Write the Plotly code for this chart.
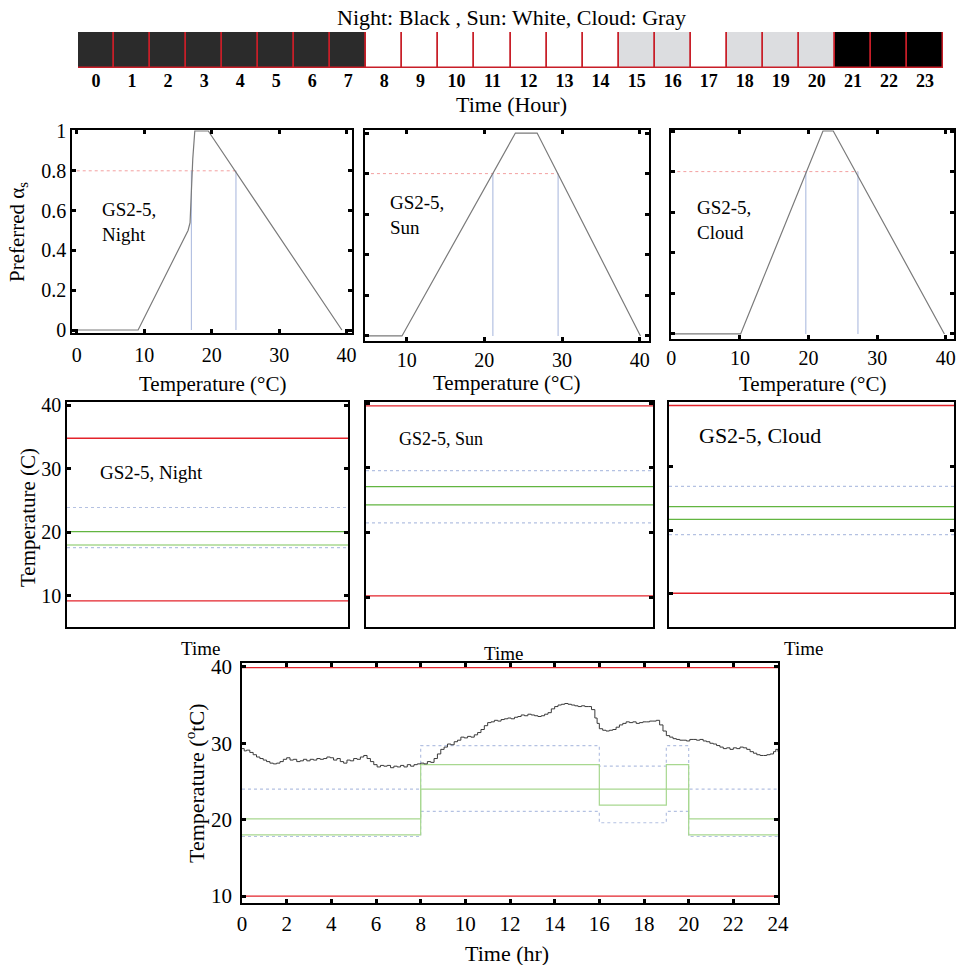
import plotly.graph_objects as go

W, H = 960, 965
FONT = "Liberation Serif"

# ---------------- data ----------------
hours = list(range(24))
sky = ["Night"] * 8 + ["Sun"] * 7 + ["Cloud"] * 2 + ["Sun"] + ["Cloud"] * 3 + ["Late night"] * 3
sky_fill = {"Night": "#2b2b2b", "Sun": "#ffffff", "Cloud": "#dcdde0", "Late night": "#000000"}

# preferred alpha_s versus temperature, per sky condition
night_temp = [0, 9.1, 16.5, 16.8, 17.0, 17.2, 17.5, 19.5, 39.3]
night_alpha = [0, 0, 0.50, 0.54, 0.70, 0.86, 1.0, 1.0, 0]
sun_temp = [0, 9.4, 24.0, 26.8, 40.1]
sun_alpha = [0, 0, 1, 1, 0]
cloud_temp = [0, 10.1, 22.1, 23.6, 39.8]
cloud_alpha = [0, 0, 1, 1, 0]
alpha_level = 0.8
night_band = [17.0, 23.6]
sun_band = [21.1, 29.5]
cloud_band = [19.6, 27.2]

# constant set-points per condition (upper/lower limits, comfort bounds, target band)
night_limits = [34.8, 9.2]
night_bounds = [23.9, 17.6]
night_target = [20.1, 18.0]
sun_limits = [39.6, 10.2]
sun_bounds = [29.6, 21.5]
sun_target = [27.1, 24.3]
cloud_limits = [39.6, 10.1]
cloud_bounds = [26.9, 19.3]
cloud_target = [23.7, 21.7]

# daily schedule (step changes, hour of change)
sched_hr = [0, 8, 16, 19, 20, 24]
sched_bound_hi = [24.0, 29.7, 27.0, 29.7, 24.0, 24.0]
sched_target_hi = [20.1, 27.2, 24.0, 27.2, 20.1, 20.1]
sched_target_lo = [18.0, 24.0, 21.9, 24.0, 18.0, 18.0]
sched_bound_lo = [17.8, 21.1, 19.6, 21.1, 17.8, 17.8]
limit_hi, limit_lo = 39.9, 10.0

# measured indoor temperature over the day
meas_hr = [0.0, 0.1, 0.2, 0.35, 0.5, 0.65, 0.8, 0.95, 1.1, 1.25, 1.4, 1.55, 1.7, 1.85,
           2.0, 2.15, 2.3, 2.45, 2.6, 2.75, 2.9, 3.05, 3.2, 3.35, 3.5, 3.65, 3.8, 3.95,
           4.1, 4.25, 4.4, 4.55, 4.7, 4.85, 5.0, 5.15, 5.3, 5.45, 5.6, 5.75, 5.9, 6.05,
           6.2, 6.35, 6.5, 6.65, 6.8, 6.95, 7.1, 7.25, 7.4, 7.55, 7.7, 7.85, 8.0, 8.15,
           8.3, 8.45, 8.6, 8.75, 8.9, 9.05, 9.2, 9.35, 9.5, 9.65, 9.8, 9.95, 10.1, 10.25,
           10.4, 10.55, 10.7, 10.85, 11.0, 11.15, 11.3, 11.45, 11.6, 11.75, 11.9, 12.05,
           12.2, 12.35, 12.5, 12.65, 12.8, 12.95, 13.1, 13.25, 13.4, 13.55, 13.7, 13.85,
           14.0, 14.15, 14.3, 14.45, 14.6, 14.75, 14.9, 15.05, 15.2, 15.35, 15.5, 15.65,
           15.8, 15.9, 16.0, 16.15, 16.3, 16.45, 16.6, 16.75, 16.9, 17.05, 17.2, 17.35,
           17.5, 17.65, 17.8, 17.95, 18.1, 18.25, 18.4, 18.55, 18.7, 18.85, 19.0, 19.15,
           19.3, 19.45, 19.6, 19.75, 19.9, 20.05, 20.2, 20.35, 20.5, 20.65, 20.8, 20.95,
           21.1, 21.25, 21.4, 21.55, 21.7, 21.85, 22.0, 22.15, 22.3, 22.45, 22.6, 22.75,
           22.9, 23.05, 23.2, 23.35, 23.5, 23.65, 23.8, 23.9, 24.0]
meas_temp = [29.3, 29.0, 29.1, 28.8, 28.5, 28.2, 28.0, 27.8, 27.6, 27.4, 27.3, 27.4, 27.6, 27.9,
             28.1, 27.8, 27.9, 27.6, 27.7, 27.9, 27.7, 27.9, 27.8, 28.0, 27.9, 28.0, 28.2, 28.1,
             27.8, 28.0, 27.6, 27.4, 27.8, 27.7, 28.0, 27.9, 28.2, 28.4, 28.0, 27.6, 27.2, 26.9,
             27.1, 27.0, 27.1, 26.8, 27.0, 26.9, 27.1, 26.9, 27.2, 27.0, 27.2, 27.3, 27.4, 27.3,
             27.6, 27.5, 28.0, 28.6, 29.2, 29.5, 29.9, 29.8, 30.2, 30.4, 30.8, 30.7, 30.9, 30.8,
             31.1, 31.4, 31.8, 32.3, 32.7, 32.8, 33.0, 32.9, 33.1, 33.2, 33.3, 33.2,
             33.4, 33.5, 33.7, 33.6, 33.8, 33.7, 33.6, 33.5, 33.6, 33.8, 34.0, 34.5,
             34.8, 35.0, 35.1, 35.2, 35.1, 35.0, 34.9, 34.8, 34.9, 34.8, 34.8, 34.4,
             33.3, 32.6, 31.9, 31.7, 31.6, 31.7, 31.8, 32.1, 32.4, 32.6, 32.8, 32.7,
             32.8, 32.6, 32.7, 32.8, 32.8, 32.9, 32.9, 33.0, 32.4, 31.6, 31.0, 30.8,
             30.6, 30.5, 30.4, 30.4, 30.3, 30.5, 30.5, 30.4, 30.5, 30.3, 30.2, 30.0,
             29.9, 29.7, 29.5, 29.3, 29.4, 29.2, 29.4, 29.3, 29.5, 29.4, 29.2, 28.9,
             28.7, 28.5, 28.4, 28.4, 28.5, 28.6, 28.9, 29.2, 28.9]

# ---------------- styling ----------------
RED = "#e3232b"
GREEN = "#62b540"
LGREEN = "#a8d890"
LBLUE = "#b4c1e2"
PINK = "#f3a0a0"
CURVE = "#7a7a7a"


def xdom(x0, x1):
    return [x0 / W, x1 / W]


def ydom(top, bottom):
    return [1 - bottom / H, 1 - top / H]


fig = go.Figure()

# hourly sky-condition strip
fig.add_trace(go.Bar(
    x=hours, y=[1] * 24, width=1,
    marker=dict(color=[sky_fill[s] for s in sky], line=dict(color="#c81e28", width=1.5)),
    xaxis="x", yaxis="y", hoverinfo="skip"))

# preference curves
panels = [
    ("2", night_temp, night_alpha, night_band),
    ("3", sun_temp, sun_alpha, sun_band),
    ("4", cloud_temp, cloud_alpha, cloud_band),
]
for ax, tt, aa, band in panels:
    fig.add_trace(go.Scatter(x=[0, band[1]], y=[alpha_level, alpha_level], mode="lines",
                             line=dict(color=PINK, width=1, dash="dot"),
                             xaxis="x" + ax, yaxis="y" + ax))
    for b in band:
        fig.add_trace(go.Scatter(x=[b, b], y=[0, alpha_level], mode="lines",
                                 line=dict(color=LBLUE, width=1.2),
                                 xaxis="x" + ax, yaxis="y" + ax))
    fig.add_trace(go.Scatter(x=tt, y=aa, mode="lines", line=dict(color=CURVE, width=1.2),
                             xaxis="x" + ax, yaxis="y" + ax))

# constant set-point panels
setpoints = [
    ("5", night_limits, night_bounds, night_target, [GREEN, LGREEN]),
    ("6", sun_limits, sun_bounds, sun_target, [GREEN, GREEN]),
    ("7", cloud_limits, cloud_bounds, cloud_target, [GREEN, GREEN]),
]
for ax, lim, bnd, tgt, gcol in setpoints:
    for v in bnd:
        fig.add_trace(go.Scatter(x=[0, 1], y=[v, v], mode="lines",
                                 line=dict(color=LBLUE, width=1.2, dash="dot"),
                                 xaxis="x" + ax, yaxis="y" + ax))
    for v, c in zip(tgt, gcol):
        fig.add_trace(go.Scatter(x=[0, 1], y=[v, v], mode="lines",
                                 line=dict(color=c, width=1.3),
                                 xaxis="x" + ax, yaxis="y" + ax))
    for v in lim:
        fig.add_trace(go.Scatter(x=[0, 1], y=[v, v], mode="lines",
                                 line=dict(color=RED, width=1.3),
                                 xaxis="x" + ax, yaxis="y" + ax))

# daily schedule with measured temperature
for series, col, dash in [(sched_bound_hi, LBLUE, "dot"), (sched_bound_lo, LBLUE, "dot"),
                          (sched_target_hi, LGREEN, "solid"), (sched_target_lo, LGREEN, "solid")]:
    fig.add_trace(go.Scatter(x=sched_hr, y=series, mode="lines", line_shape="hv",
                             line=dict(color=col, width=1.2, dash=dash),
                             xaxis="x8", yaxis="y8"))
for v in [limit_hi, limit_lo]:
    fig.add_trace(go.Scatter(x=[0, 24], y=[v, v], mode="lines",
                             line=dict(color=RED, width=1.3), xaxis="x8", yaxis="y8"))
fig.add_trace(go.Scatter(x=meas_hr, y=meas_temp, mode="lines", line_shape="hv",
                         line=dict(color="#3a3a3a", width=1), xaxis="x8", yaxis="y8"))

tick_style = dict(ticks="inside", ticklen=4, tickwidth=3, tickcolor="black",
                  showline=True, linecolor="black", linewidth=1.5, mirror="ticks",
                  showgrid=False, zeroline=False, automargin=False)
tfont = dict(family=FONT, size=20, color="black")

layout = dict(
    width=W, height=H, margin=dict(l=0, r=0, t=0, b=0, pad=0, autoexpand=False),
    paper_bgcolor="white", plot_bgcolor="white", showlegend=False, bargap=0,
    font=dict(family=FONT, color="black"),
    xaxis=dict(domain=xdom(78, 943), range=[-0.5, 23.5], tickvals=hours, showgrid=False,
               zeroline=False, ticks="", showline=False, automargin=False,
               tickfont=dict(family=FONT, size=18, color="black", weight="bold"),
               ticklabelstandoff=0, anchor="y"),
    yaxis=dict(domain=ydom(32, 68), range=[0, 1], visible=False, anchor="x", automargin=False),
    # preference panels
    xaxis2=dict(domain=xdom(72, 352), range=[-0.7, 40.8], tickvals=[0, 10, 20, 30, 40],
                tickfont=tfont, ticklabelstandoff=3, anchor="y2", **tick_style),
    yaxis2=dict(domain=ydom(130, 333), range=[-0.015, 1.005],
                tickvals=[0, 0.2, 0.4, 0.6, 0.8, 1], tickfont=tfont, anchor="x2", **tick_style),
    xaxis3=dict(domain=xdom(365, 649), range=[4.64, 41.2], tickvals=[10, 20, 30, 40],
                tickfont=tfont, ticklabelstandoff=0, anchor="y3", **tick_style),
    yaxis3=dict(domain=ydom(130, 341), range=[-0.025, 1.015],
                tickvals=[0, 0.2, 0.4, 0.6, 0.8, 1], showticklabels=False, anchor="x3", **tick_style),
    xaxis4=dict(domain=xdom(671, 954), range=[-0.05, 41.2], tickvals=[0, 10, 20, 30, 40],
                tickfont=tfont, ticklabelstandoff=0, anchor="y4", **tick_style),
    yaxis4=dict(domain=ydom(130, 339), range=[-0.025, 1.005],
                tickvals=[0, 0.2, 0.4, 0.6, 0.8, 1], showticklabels=False, anchor="x4", **tick_style),
    # set-point panels
    xaxis5=dict(domain=xdom(67, 348), range=[0, 1], tickvals=[], anchor="y5", **tick_style),
    yaxis5=dict(domain=ydom(402, 627), range=[5.1, 40.5], tickvals=[10, 20, 30, 40],
                tickfont=tfont, anchor="x5", **tick_style),
    xaxis6=dict(domain=xdom(366, 653), range=[0, 1], tickvals=[], anchor="y6", **tick_style),
    yaxis6=dict(domain=ydom(402, 627), range=[5.4, 40.2], tickvals=[10, 20, 30, 40],
                showticklabels=False, anchor="x6", **tick_style),
    xaxis7=dict(domain=xdom(669, 954), range=[0, 1], tickvals=[], anchor="y7", **tick_style),
    yaxis7=dict(domain=ydom(402, 627), range=[4.8, 40.15], tickvals=[10, 20, 30, 40],
                showticklabels=False, anchor="x7", **tick_style),
    # daily schedule panel
    xaxis8=dict(domain=xdom(242, 778), range=[0, 24], tickvals=list(range(0, 25, 2)),
                tickfont=dict(family=FONT, size=21, color="black"), ticklabelstandoff=1,
                anchor="y8", **tick_style),
    yaxis8=dict(domain=ydom(663, 903), range=[9.1, 40.5], tickvals=[10, 20, 30, 40],
                tickfont=dict(family=FONT, size=21, color="black"), ticklabelstandoff=4,
                anchor="x8", **tick_style),
)
fig.update_layout(**layout)


def note(text, x, y, size=19, xanchor="center", yanchor="middle", angle=0, align="center"):
    fig.add_annotation(text=text, x=x / W, y=1 - y / H, xref="paper", yref="paper",
                       showarrow=False, font=dict(family=FONT, size=size, color="black"),
                       xanchor=xanchor, yanchor=yanchor, textangle=angle, align=align)


note("Night: Black , Sun: White, Cloud: Gray", 511, 18, size=22)
note("Time (Hour)", 511, 105, size=22)

note("Preferred α<sub>s</sub>", 18, 232, size=21, angle=-90)
note("Temperature (°C)", 212, 384, size=21)
note("Temperature (°C)", 507, 383, size=21)
note("Temperature (°C)", 812, 384, size=21)
note("GS2-5,<br>Night", 100, 222, size=19, xanchor="left", align="left")
note("GS2-5,<br>Sun", 388, 215, size=19, xanchor="left", align="left")
note("GS2-5,<br>Cloud", 695, 220, size=19, xanchor="left", align="left")

note("Temperature (C)", 28, 518, size=21, angle=-90)
note("GS2-5, Night", 98, 472, size=19, xanchor="left")
note("GS2-5, Sun", 397, 439, size=18, xanchor="left")
note("GS2-5, Cloud", 697, 435, size=22, xanchor="left")
note("Time", 200, 648, size=19)
note("Time", 503, 653, size=19)
note("Time", 803, 648, size=19)

note("Temperature (<sup>o</sup>tC)", 195, 783, size=22, angle=-90)
note("Time (hr)", 507, 953, size=22)

fig.write_html("out.html")
